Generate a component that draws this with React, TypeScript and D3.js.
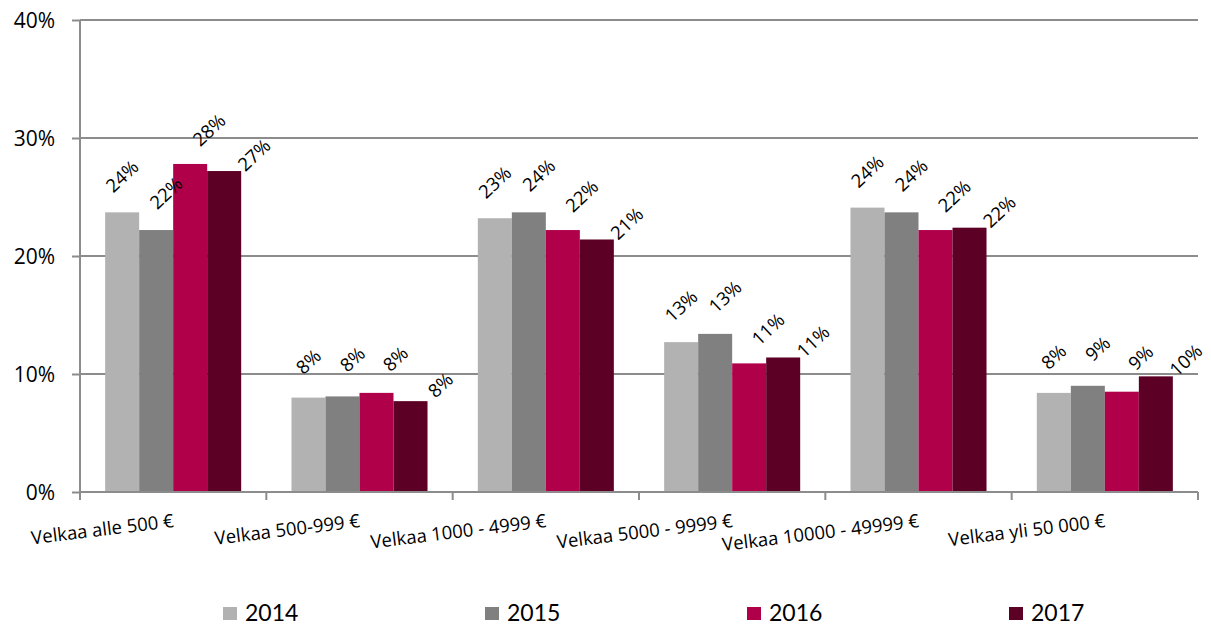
import { useEffect, useRef } from 'react';
import * as d3 from 'd3';

const categories = [
  'Velkaa alle 500 €',
  'Velkaa 500-999 €',
  'Velkaa 1000 - 4999 €',
  'Velkaa 5000 - 9999 €',
  'Velkaa 10000 - 49999 €',
  'Velkaa yli 50 000 €',
];
const years = ['2014', '2015', '2016', '2017'];
const v2014 = [23.7, 8.0, 23.2, 12.7, 24.1, 8.4];
const v2015 = [22.2, 8.1, 23.7, 13.4, 23.7, 9.0];
const v2016 = [27.8, 8.4, 22.2, 10.9, 22.2, 8.5];
const v2017 = [27.2, 7.7, 21.4, 11.4, 22.4, 9.8];
const yTicks = [0, 10, 20, 30, 40];
const colors = ['#b2b2b2', '#808080', '#b0004a', '#5c0026'];

// rough offsets of the rotated value labels, per series (Excel spreads them)
const labelDx = [0, 10, 19, 30];
const labelDy = [-36, -37, -34, -16];

const FONT = '"Open Sans", Lato, sans-serif';

export default function App() {
  const svgRef = useRef<SVGSVGElement>(null);

  useEffect(() => {
    const W = 1211;
    const H = 626;
    const left = 80;
    const right = 1198;
    const top = 20;
    const bottom = 492;
    const series = [v2014, v2015, v2016, v2017];

    const root = d3.select(svgRef.current);
    root.selectAll('*').remove();
    root.attr('width', W).attr('height', H);

    const x0 = d3
      .scaleBand()
      .domain(categories)
      .range([left, right])
      .paddingInner(0.27)
      .paddingOuter(0.135);
    const x1 = d3.scaleBand().domain(years).range([0, x0.bandwidth()]);
    const y = d3.scaleLinear().domain([0, 40]).range([bottom, top]);

    // gridlines
    root
      .append('g')
      .selectAll('line')
      .data(yTicks.slice(1))
      .enter()
      .append('line')
      .attr('x1', left)
      .attr('x2', right)
      .attr('y1', (d) => y(d))
      .attr('y2', (d) => y(d))
      .attr('stroke', '#8c8c8c')
      .attr('stroke-width', 2);

    // y axis
    const yAxis = root
      .append('g')
      .attr('transform', `translate(${left},0)`)
      .call(
        d3
          .axisLeft(y)
          .tickValues(yTicks)
          .tickSize(8)
          .tickPadding(17)
          .tickFormat((d) => `${d}%`)
      );
    yAxis.select('.domain').attr('stroke', '#8c8c8c').attr('stroke-width', 2).attr('d', `M0,${top}V${bottom}`);
    yAxis.selectAll('.tick line').attr('stroke', '#8c8c8c').attr('stroke-width', 2);
    yAxis
      .selectAll('.tick text')
      .style('font-family', FONT)
      .style('font-size', '21px')
      .attr('fill', '#000')
      .attr('dy', '0.35em');

    // bars
    const groups = root
      .append('g')
      .selectAll('g')
      .data(categories)
      .enter()
      .append('g')
      .attr('transform', (d) => `translate(${x0(d)},0)`);

    groups
      .selectAll('rect')
      .data((_, ci) => series.map((s, si) => ({ year: years[si], v: s[ci], si })))
      .enter()
      .append('rect')
      .attr('x', (d) => x1(d.year)!)
      .attr('y', (d) => y(d.v))
      .attr('width', x1.bandwidth())
      .attr('height', (d) => bottom - y(d.v))
      .attr('fill', (d) => colors[d.si]);

    // value labels
    groups
      .selectAll('text')
      .data((_, ci) => series.map((s, si) => ({ year: years[si], v: s[ci], si })))
      .enter()
      .append('text')
      .attr(
        'transform',
        (d) =>
          `translate(${x1(d.year)! + x1.bandwidth() / 2 + labelDx[d.si]},${y(d.v) + labelDy[d.si]}) rotate(-43)`
      )
      .attr('text-anchor', 'middle')
      .attr('dy', '0.35em')
      .style('font-family', FONT)
      .style('font-size', '18.5px')
      .attr('fill', '#000')
      .text((d) => `${Math.round(d.v)}%`);

    // x axis
    const xAxis = root
      .append('g')
      .attr('transform', `translate(0,${bottom})`);
    xAxis
      .append('line')
      .attr('x1', left)
      .attr('x2', right)
      .attr('stroke', '#8c8c8c')
      .attr('stroke-width', 2);
    const step = (right - left) / categories.length;
    xAxis
      .selectAll('line.tk')
      .data(d3.range(categories.length + 1))
      .enter()
      .append('line')
      .attr('class', 'tk')
      .attr('x1', (i) => left + i * step)
      .attr('x2', (i) => left + i * step)
      .attr('y1', 0)
      .attr('y2', 8)
      .attr('stroke', '#8c8c8c')
      .attr('stroke-width', 2);
    xAxis
      .selectAll('text')
      .data(categories)
      .enter()
      .append('text')
      .attr('transform', (d) => `translate(${x0(d)! + x0.bandwidth() / 2 + 1},35) rotate(-7)`)
      .attr('text-anchor', 'end')
      .style('font-family', FONT)
      .style('font-size', '18.5px')
      .attr('fill', '#000')
      .text((d) => d);

    // legend
    const legend = root
      .append('g')
      .selectAll('g')
      .data(years)
      .enter()
      .append('g')
      .attr('transform', (_, i) => `translate(${223 + i * 262},607)`);
    legend
      .append('rect')
      .attr('width', 14)
      .attr('height', 13)
      .attr('fill', (_, i) => colors[i]);
    legend
      .append('text')
      .attr('x', 22)
      .attr('y', 14)
      .style('font-family', 'Lato, sans-serif')
      .style('font-size', '23px')
      .attr('fill', '#000')
      .text((d) => d);
  }, []);

  return (
    <svg
      ref={svgRef}
      style={{ position: 'absolute', left: 0, top: 0, background: '#fff' }}
    ></svg>
  );
}
